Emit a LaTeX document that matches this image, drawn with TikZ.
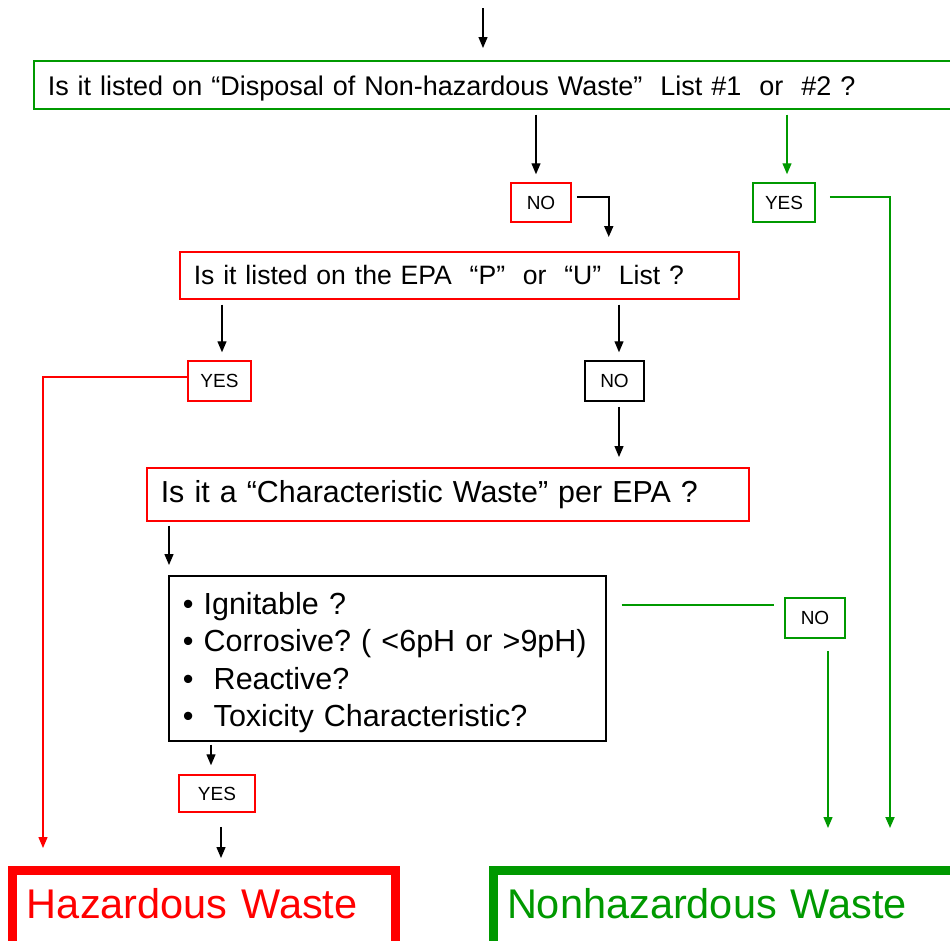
\documentclass[tikz,border=0pt]{standalone}
\usepackage{fontspec}
\setmainfont{Liberation Sans}
\usetikzlibrary{arrows.meta,positioning}
\definecolor{nhgreen}{RGB}{0,153,0}
\frenchspacing

\begin{document}
\begin{tikzpicture}[x=1pt,y=-1pt,>={Triangle[length=11pt,width=9pt]},line width=1.3pt,
	qbox/.style={draw,rectangle,line width=1.5pt,anchor=north west,inner xsep=14pt,inner ysep=0pt,align=left},
	abox/.style={draw,rectangle,line width=1.5pt,minimum height=39pt,inner sep=0pt,font=\fontsize{19}{23}\selectfont},
	wbox/.style={draw,rectangle,line width=9pt,anchor=north west,align=left,text height=31pt,text depth=60pt,
		inner ysep=16.5pt,font=\fontsize{41.5}{50}\selectfont}]

		\useasboundingbox (0,0) rectangle (950,940);
		\clip (0,0) rectangle (950,940);

		\coordinate(s) at (483,8);
		\node(q_1) [qbox, nhgreen, text=black, text width=902pt, minimum height=48pt, text height=26pt, text depth=4pt,
			font=\fontsize{27}{33}\selectfont] at (33,60)
			{Is it listed on “Disposal of Non-hazardous Waste”~ List \#1~ or~ \#2 ?};
		\node(q_2) [qbox, red, text=black, text width=531pt, minimum height=47pt,
			font=\fontsize{26.6}{33}\selectfont] at (179,251)
			{Is it listed on the EPA~ “P”~ or~ “U”~ List ?};
		\node(q_3) [qbox, red, text=black, text width=574pt, minimum height=53pt,
			font=\fontsize{30.4}{37}\selectfont] at (146,467)
			{Is it a “Characteristic Waste” per EPA ?};
		\node(q_4) [qbox, black, text width=409pt, minimum height=165pt,
			font=\fontsize{30.5}{37.5}\selectfont] at (168,575)
			{\rule{0pt}{31pt}• Ignitable~?\\• Corrosive?~(~<6pH~or~>9pH)\\•~ Reactive?\\•~ Toxicity~Characteristic?};

		\node(a_1) [abox, red, text=black, minimum width=60pt] at (541,202.5) {NO};
		\node(a_2) [abox, nhgreen, text=black, minimum width=62pt] at (784,202.5) {YES};
		\node(a_3) [abox, red, text=black, minimum width=63pt, minimum height=40pt] at (219.5,381) {YES};
		\node(a_4) [abox, black, minimum width=59pt, minimum height=40pt] at (614.5,381) {NO};
		\node(a_5) [abox, nhgreen, text=black, minimum width=60pt, minimum height=40pt] at (815,618) {NO};
		\node(a_6) [abox, red, text=black, minimum width=76pt, minimum height=37pt] at (217,793.5) {YES};

		\node(h) [wbox, red, inner xsep=14.5pt, text width=354pt] at (8,866) {Hazardous Waste};
		\node(n) [wbox, nhgreen, inner xsep=13.5pt, text width=500pt] at (489,866) {Nonhazardous Waste};

		\draw[->,shorten >=12pt] (s) -- (s |- q_1.north);
		\draw[->,shorten <=5pt,shorten >=8pt] ([xshift=-5pt]a_1.north |- q_1.south) -- ([xshift=-5pt]a_1.north);
		\draw[->,nhgreen,shorten <=5pt,shorten >=8pt] ([xshift=3pt]a_2.north |- q_1.south) -- ([xshift=3pt]a_2.north);
		\draw[->,line width=1.8pt] ([shift={(5,-5.5)}]a_1.east) -| ([shift={(149.5,-14)}]q_2.north);
		\draw[->,nhgreen,line width=1.8pt] ([shift={(14,-5.5)}]a_2.east) -| ([shift={(401,-38)}]n.north west);
		\draw[->,shorten <=5pt,shorten >=8pt] ([xshift=2.5pt]a_3.north |- q_2.south) -- ([xshift=2.5pt]a_3.north);
		\draw[->,shorten <=5pt,shorten >=8pt] ([xshift=4.5pt]a_4.north |- q_2.south) -- ([xshift=4.5pt]a_4.north);
		\draw[->,red] ([yshift=4pt]a_3.west) -| ([shift={(35,-18)}]h.north west);
		\draw[->,shorten <=5pt,shorten >=10pt] ([xshift=4.5pt]a_4.south) -- ([xshift=4.5pt]a_4.south |- q_3.north);
		\draw[->,shorten <=4pt,shorten >=10pt] ([xshift=1pt]q_4.north west |- q_3.south) -- ([xshift=1pt]q_4.north west);
		\draw[nhgreen,line width=1.8pt,shorten <=15pt,shorten >=10pt] ([yshift=13pt]a_5.west -| q_4.east) -- ([yshift=13pt]a_5.west);
		\draw[->,nhgreen,shorten <=12pt,shorten >=38pt] ([xshift=13pt]a_5.south) -- ([xshift=13pt]a_5.south |- n.north);
		\draw[->,shorten <=3pt,shorten >=9pt] ([xshift=-6pt]a_6.north |- q_4.south) -- ([xshift=-6pt]a_6.north);
		\draw[->,shorten <=14pt,shorten >=8pt] ([xshift=4pt]a_6.south) -- ([xshift=4pt]a_6.south |- h.north);

	\end{tikzpicture}
\end{document}
